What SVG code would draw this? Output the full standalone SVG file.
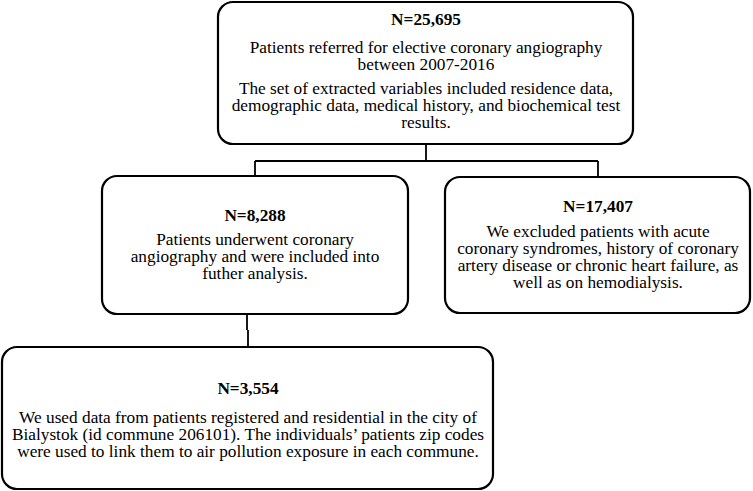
<svg xmlns="http://www.w3.org/2000/svg" width="753" height="491" viewBox="0 0 753 491">
<style>
.box{fill:#fff;stroke:#000;stroke-width:2.2}
.ln{fill:none;stroke:#000;stroke-width:1.8}
text{font-family:"Liberation Serif","Times New Roman",serif;font-size:17.3px;fill:#000;text-anchor:middle}
.b{font-weight:bold}
</style>
<rect width="753" height="491" fill="#fff"/>
<g id="connectors">
<path class="ln" d="M426,144 V161 M255,161 H598 M255,161 V176 M598,161 V177"/>
<path class="ln" d="M247,314 V330 M248,330 V347"/>
</g>
<g id="n1">
<rect class="box" x="218" y="2" width="415" height="142" rx="15"/>
<text class="b" x="426" y="25">N=25,695</text>
<text x="426" y="53">Patients referred for elective coronary angiography</text>
<text x="426" y="70">between 2007-2016</text>
<text x="426" y="94">The set of extracted variables included residence data,</text>
<text x="426" y="111">demographic data, medical history, and biochemical test</text>
<text x="426" y="128">results.</text>
</g>
<g id="n2">
<rect class="box" x="102" y="176" width="306" height="138" rx="15"/>
<text class="b" x="255" y="221">N=8,288</text>
<text x="255" y="245">Patients underwent coronary</text>
<text x="255" y="262">angiography and were included into</text>
<text x="255" y="279">futher analysis.</text>
</g>
<g id="n3">
<rect class="box" x="445" y="177" width="305" height="136" rx="15"/>
<text class="b" x="598" y="212">N=17,407</text>
<text x="598" y="237">We excluded patients with acute</text>
<text x="598" y="254">coronary syndromes, history of coronary</text>
<text x="598" y="271">artery disease or chronic heart failure, as</text>
<text x="598" y="288">well as on hemodialysis.</text>
</g>
<g id="n4">
<rect class="box" x="2" y="347" width="491" height="142" rx="15"/>
<text class="b" x="248" y="394">N=3,554</text>
<text x="248" y="423">We used data from patients registered and residential in the city of</text>
<text x="248" y="440">Bialystok (id commune 206101). The individuals’ patients zip codes</text>
<text x="248" y="457">were used to link them to air pollution exposure in each commune.</text>
</g>
</svg>
